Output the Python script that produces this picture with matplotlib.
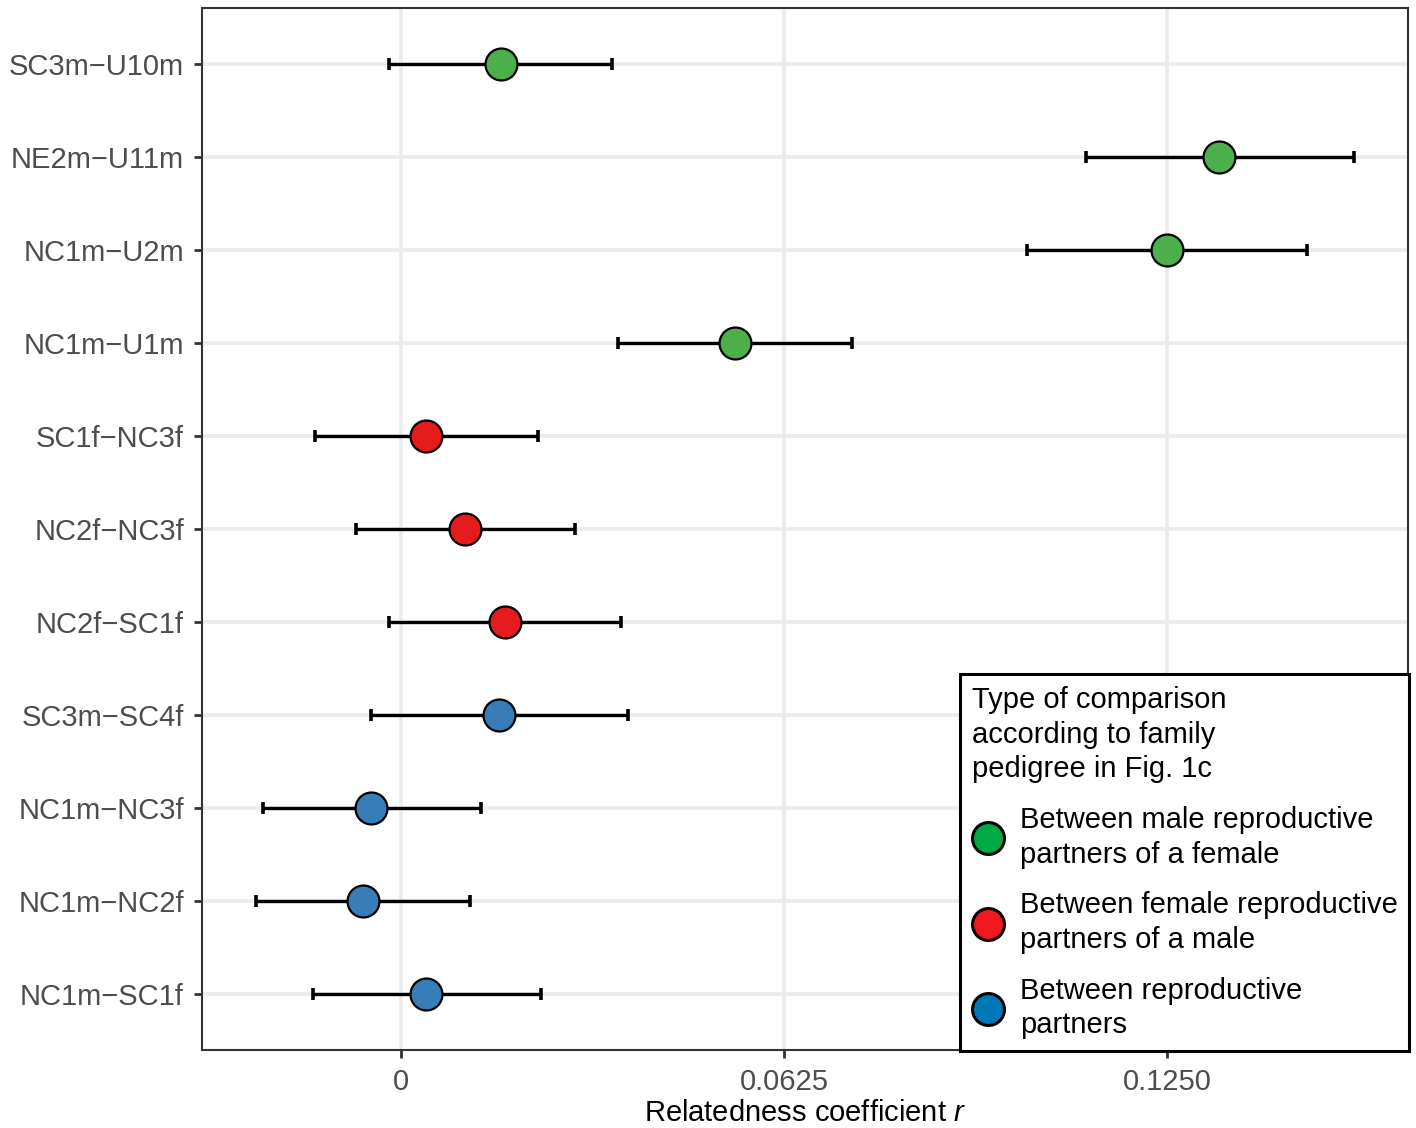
import matplotlib.pyplot as plt
from matplotlib.lines import Line2D

plt.rcParams['font.family'] = ['Liberation Sans', 'DejaVu Sans']
plt.rcParams['mathtext.fontset'] = 'custom'
plt.rcParams['mathtext.rm'] = 'Liberation Sans'
plt.rcParams['mathtext.it'] = 'Liberation Sans:italic'

# top to bottom
labels = ['SC3m\u2212U10m', 'NE2m\u2212U11m', 'NC1m\u2212U2m', 'NC1m\u2212U1m',
          'SC1f\u2212NC3f', 'NC2f\u2212NC3f', 'NC2f\u2212SC1f', 'SC3m\u2212SC4f',
          'NC1m\u2212NC3f', 'NC1m\u2212NC2f', 'NC1m\u2212SC1f']
r_est = [0.0163, 0.1335, 0.1250, 0.0545, 0.0041, 0.0104, 0.0170, 0.0160, -0.0049, -0.0062, 0.0041]
r_lo = [-0.0020, 0.1118, 0.1022, 0.0354, -0.0140, -0.0073, -0.0020, -0.0049, -0.0225, -0.0237, -0.0144]
r_hi = [0.0344, 0.1555, 0.1478, 0.0736, 0.0224, 0.0284, 0.0359, 0.0370, 0.0131, 0.0113, 0.0228]
group = [0, 0, 0, 0, 1, 1, 1, 2, 2, 2, 2]

point_cols = ['#4DAF4A', '#E41A1C', '#377EB8']
key_cols = ['#00AB45', '#F0171F', '#0077B8']
group_names = ['Between male reproductive\npartners of a female',
               'Between female reproductive\npartners of a male',
               'Between reproductive\npartners']

fs = 21

fig = plt.figure(figsize=(14.16, 11.28), dpi=100)
ax = fig.add_axes([202 / 1416, 78 / 1128, 1206 / 1416, 1042 / 1128])

n = len(labels)
ypos = [n - 1 - i for i in range(n)]

ax.grid(True, color='#EBEBEB', lw=2.6, zorder=0)
ax.set_axisbelow(True)

for i in range(n):
    ax.errorbar(r_est[i], ypos[i],
                xerr=[[r_est[i] - r_lo[i]], [r_hi[i] - r_est[i]]],
                fmt='none', ecolor='black', elinewidth=2.4, capsize=4.5,
                capthick=2.6, zorder=2)
    ax.plot(r_est[i], ypos[i], 'o', ms=23, mfc=point_cols[group[i]],
            mec='black', mew=1.6, zorder=3)

ax.set_yticks(ypos)
ax.set_yticklabels(labels)
ax.set_xticks([0, 0.0625, 0.125])
ax.set_xticklabels(['0', '0.0625', '0.1250'])
ax.set_xlim(-0.0325, 0.1643)
ax.set_ylim(-0.6, n - 0.4)

ax.tick_params(axis='both', colors='#333333', labelcolor='#4D4D4D',
               labelsize=fs, length=6, width=2, pad=7)
for s in ax.spines.values():
    s.set_color('#333333')
    s.set_linewidth(1.5)

ax.set_xlabel('Relatedness coefficient $\\mathit{r}$', fontsize=fs, labelpad=2)

handles = [Line2D([], [], ls='none', marker='o', ms=23, mfc=c, mec='black', mew=2.2)
           for c in key_cols]
leg = ax.legend(handles, group_names,
                title='Type of comparison\naccording to family\npedigree in Fig. 1c',
                loc='lower right', bbox_to_anchor=(1.001, -0.001),
                borderaxespad=0, fontsize=fs, title_fontsize=fs,
                frameon=True, fancybox=False, handletextpad=0.55,
                handlelength=1.1, labelspacing=0.78, borderpad=0.4,
                alignment='left')
for t in leg.get_texts():
    t.set_linespacing(1.3)
leg.get_title().set_linespacing(1.3)
leg.get_frame().set_edgecolor('black')
leg.get_frame().set_linewidth(2.2)
leg.get_frame().set_alpha(1)

fig.savefig('out.png', dpi=100)
